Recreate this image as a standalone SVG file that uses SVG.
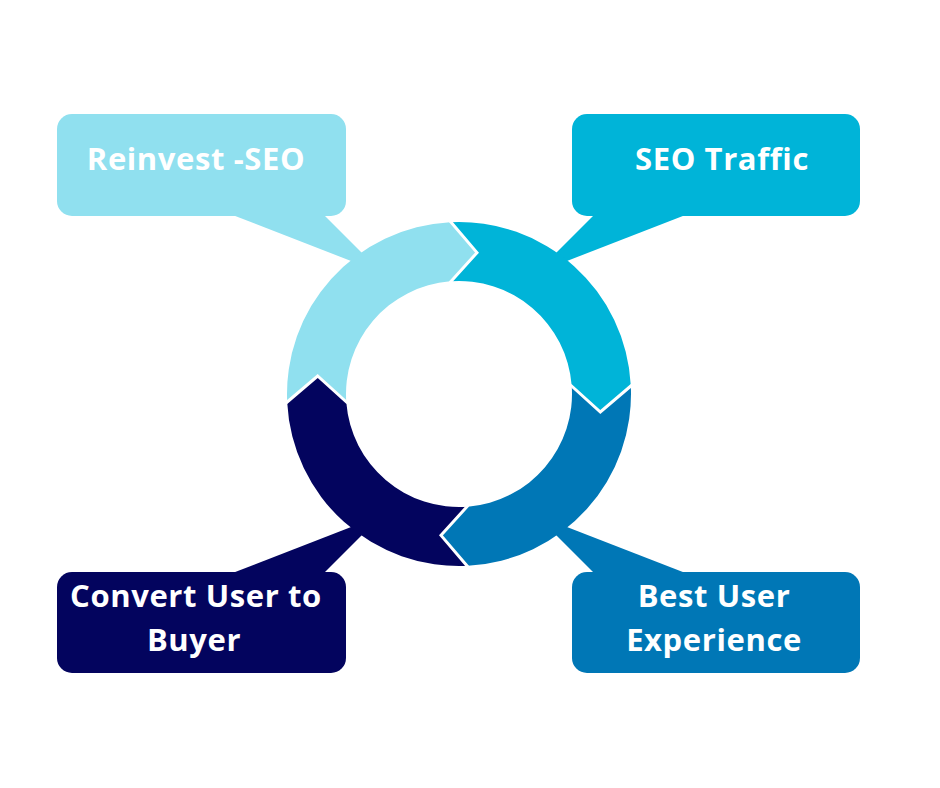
<svg xmlns="http://www.w3.org/2000/svg" width="940" height="788" viewBox="0 0 940 788">
<style>
.lbl{font-family:"Open Sans","Liberation Sans",sans-serif;font-weight:700;font-size:31px;letter-spacing:0.6px;fill:#ffffff;text-anchor:middle}
.c1{fill:#90E0EF}.c2{fill:#00B4D8}.c3{fill:#0077B6}.c4{fill:#03045E}
.gap{fill:none;stroke:#ffffff;stroke-width:3;stroke-linejoin:miter}
</style>
<rect width="940" height="788" fill="#ffffff"/>
<g id="connectors">
<polygon class="c1" points="230,214 323,214 382,273"/>
<polygon class="c2" points="688,214 595,214 536,273"/>
<polygon class="c4" points="230,574 323,574 382,515"/>
<polygon class="c3" points="688,574 595,574 536,515"/>
</g>
<g id="reinvest">
<path class="c1" d="M287.24,403 A172,172 0 0 1 450,222.24 L477,252.64 L450,281.36 A113,113 0 0 0 346.36,403 L317.64,376 Z"/>
<rect class="c1" x="57" y="114" width="289" height="102" rx="15"/>
<text class="lbl" x="196" y="170">Reinvest -SEO</text>
</g>
<g id="seo-traffic">
<path class="c2" d="M450,222.24 A172,172 0 0 1 630.76,385 L600.36,412 L571.64,385 A113,113 0 0 0 450,281.36 L477,252.64 Z"/>
<rect class="c2" x="572" y="114" width="288" height="102" rx="15"/>
<text class="lbl" x="722" y="170">SEO Traffic</text>
</g>
<g id="best-user-experience">
<path class="c3" d="M630.76,385 A172,172 0 0 1 468,565.76 L441,535.36 L468,506.64 A113,113 0 0 0 571.64,385 L600.36,412 Z"/>
<rect class="c3" x="572" y="572" width="288" height="101" rx="15"/>
<text class="lbl" x="714" y="607">Best User</text>
<text class="lbl" x="714" y="651">Experience</text>
</g>
<g id="convert-user">
<path class="c4" d="M468,565.76 A172,172 0 0 1 287.24,403 L317.64,376 L346.36,403 A113,113 0 0 0 468,506.64 L441,535.36 Z"/>
<rect class="c4" x="57" y="572" width="289" height="101" rx="15"/>
<text class="lbl" x="196" y="607">Convert User to</text>
<text class="lbl" x="194" y="651">Buyer</text>
</g>
<g id="ring-gaps">
<polyline class="gap" points="450,221 477,252.64 450,282.5"/>
<polyline class="gap" points="632,385 600.36,412 570.5,385"/>
<polyline class="gap" points="468,567 441,535.36 468,505.5"/>
<polyline class="gap" points="286,403 317.64,376 347.5,403"/>
</g>
</svg>
